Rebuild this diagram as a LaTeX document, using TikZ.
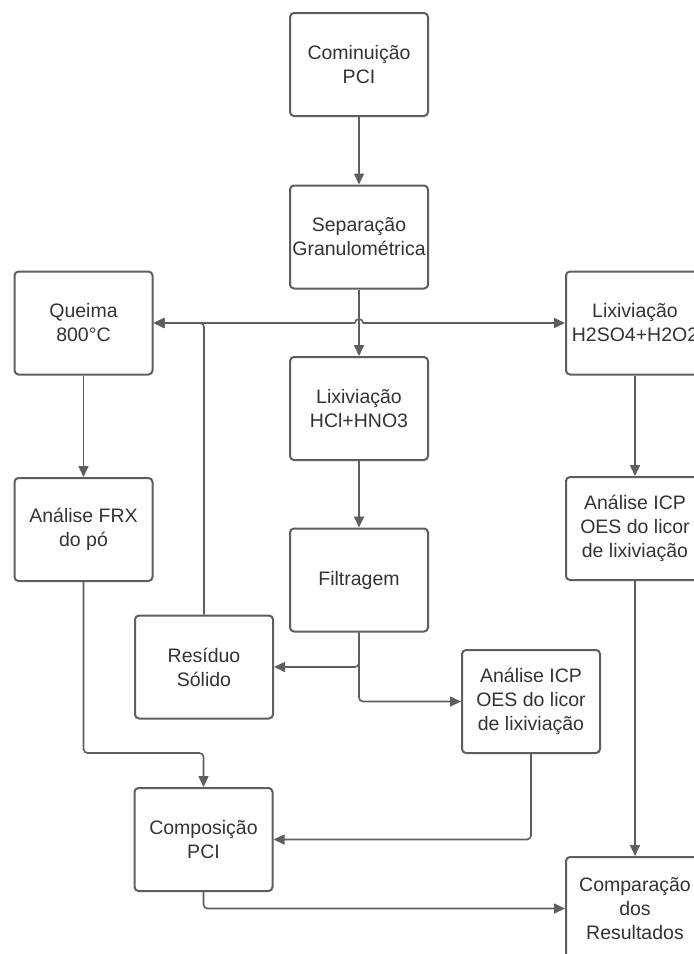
\documentclass[tikz,border=0pt]{standalone}
\usepackage{fontspec}
\setmainfont{Liberation Sans}
\usetikzlibrary{arrows.meta,calc}
\definecolor{linec}{HTML}{5E5E5E}
\definecolor{textc}{HTML}{333333}
\begin{document}
\begin{tikzpicture}[x=1pt,y=1pt,
  box/.style={draw=linec, line width=2pt, rounded corners=4pt, minimum width=138pt, minimum height=103pt, inner sep=0pt, align=center, text=textc, font=\fontsize{19.5}{24}\selectfont, fill=white},
  conn/.style={draw=linec, line width=1.6pt, rounded corners=4pt, -{Triangle[length=11pt,width=10pt]}},
  plainline/.style={draw=linec, line width=1.6pt}]
\useasboundingbox (0,0) rectangle (694,-954);
\fill[white] (0,0) rectangle (694,-954);
\clip (0,0) rectangle (694,-954);

\node[box] (com)    at (359,-64.5)  {Cominuição\\PCI};
\node[box] (sep)    at (359,-237)   {Separação\\Granulométrica};
\node[box] (queima) at (83.5,-323)  {Queima\\800°C};
\node[box] (lix2)   at (635,-323)   {Lixiviação\\H2SO4+H2O2};
\node[box] (lix1)   at (359,-408.5) {Lixiviação\\HCl+HNO3};
\node[box] (frx)    at (83.5,-529.5){Análise FRX\\do pó};
\node[box] (icp2)   at (635,-528.5) {Análise ICP\\OES do licor\\de lixiviação};
\node[box] (filt)   at (359,-580)   {Filtragem};
\node[box] (res)    at (204,-667)   {Resíduo\\Sólido};
\node[box] (icp1)   at (531,-701.5) {Análise ICP\\OES do licor\\de lixiviação};
\node[box] (compo)  at (203.5,-839.5){Composição\\PCI};
\node[box] (compar) at (635,-908.5) {Comparação\\dos\\Resultados};

\coordinate (j) at (359,-323);

\draw[conn] (com) -- (sep);
\draw[conn] (sep) -- (lix1);
\draw[conn] ($(j)+(-4,0)$) -- (queima.east);
\draw[conn] ($(j)+(4,0)$) -- (lix2.west);
\draw[plainline] ($(j)+(-4,0)$) arc[start angle=180,end angle=0,radius=4];
\draw[conn] (res.north) |- (queima.east);
\draw[conn] (queima) -- (frx);
\draw[conn] (lix2) -- (icp2);
\draw[conn] (lix1) -- (filt);
\draw[conn] (filt.south) |- (res.east);
\draw[conn] (filt.south) |- (icp1.west);
\draw[conn] (frx.south) -- (83.5,-753) -| (compo.north);
\draw[conn] (icp1.south) |- (compo.east);
\draw[conn] (icp2) -- (compar);
\draw[conn] (compo.south) |- (compar.west);
\end{tikzpicture}
\end{document}
